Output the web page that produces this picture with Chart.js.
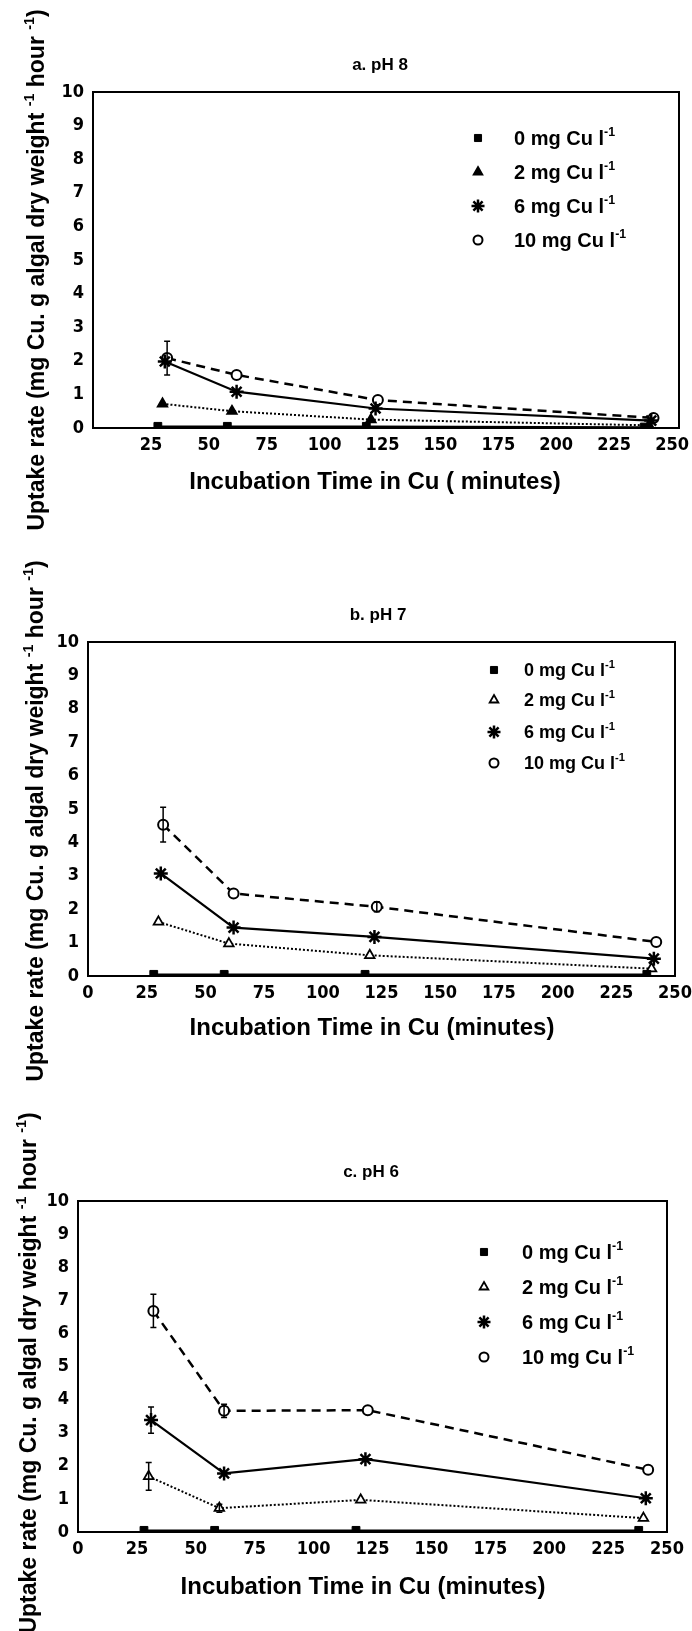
<!DOCTYPE html>
<html>
<head>
<meta charset="utf-8">
<script src="https://cdn.jsdelivr.net/npm/chart.js@4.4.1/dist/chart.umd.min.js"></script>
<style>
    html, body { margin: 0; padding: 0; background: #fff; }
    #pagina { position: relative; width: 692px; height: 1631px; overflow: hidden; background: #fff; }
    .painel { position: absolute; left: 0; width: 692px; }
    .painel canvas { display: block; }
</style>
</head>
<body>
<div id="pagina">
    <div class="painel" style="top:0px;height:550px"><canvas id="grafico-a" width="692" height="550"></canvas></div>
    <div class="painel" style="top:550px;height:545px"><canvas id="grafico-b" width="692" height="545"></canvas></div>
    <div class="painel" style="top:1095px;height:536px"><canvas id="grafico-c" width="692" height="536"></canvas></div>
</div>
<script>
// tempos de incubacao (min) de cada serie
var tempo0  = [28, 58, 118, 238];
var tempo2  = [30, 60, 120, 240];
var tempo6  = [31, 62, 122, 241];
var tempo10 = [32, 62, 123, 242];

// a. pH 8
var ph8Cu0    = [0.05, 0.05, 0.05, 0.03];
var ph8Cu2    = [0.72, 0.50, 0.25, 0.08];
var ph8Cu6    = [1.98, 1.08, 0.58, 0.22];
var ph8Cu10   = [2.08, 1.58, 0.83, 0.30];
var ph8Erro10 = [0.50, null, null, null];

// b. pH 7
var ph7Cu0    = [0.05, 0.05, 0.05, 0.05];
var ph7Cu2    = [1.62, 0.97, 0.62, 0.22];
var ph7Cu6    = [3.07, 1.45, 1.17, 0.52];
var ph7Cu10   = [4.53, 2.47, 2.07, 1.02];
var ph7Erro10 = [0.52, null, 0.15, null];

// c. pH 6
var ph6Cu0    = [0.05, 0.05, 0.05, 0.05];
var ph6Cu2    = [1.68, 0.72, 0.97, 0.42];
var ph6Cu6    = [3.38, 1.77, 2.20, 1.02];
var ph6Cu10   = [6.68, 3.66, 3.68, 1.88];
var ph6Erro2  = [0.42, 0.12, null, null];
var ph6Erro6  = [0.40, null, null, null];
var ph6Erro10 = [0.50, 0.20, null, null];

var ticksY  = [0, 1, 2, 3, 4, 5, 6, 7, 8, 9, 10];
var ticksX  = [0, 25, 50, 75, 100, 125, 150, 175, 200, 225, 250];
var ticksXa = [25, 50, 75, 100, 125, 150, 175, 200, 225, 250];

var legendas = ['0 mg Cu l', '2 mg Cu l', '6 mg Cu l', '10 mg Cu l'];
var titulos  = ['a. pH 8', 'b. pH 7', 'c. pH 6'];
var tituloY  = [
    { t: 'Uptake rate (mg Cu. g algal dry weight ' }, { t: '-1', sup: true },
    { t: ' hour ' }, { t: '-1', sup: true }, { t: ')' }
];

var fonteTexto   = "'Liberation Sans', Arial, sans-serif";
var fonteNumeros = "'Liberation Sans Narrow', 'DejaVu Sans Condensed', 'Liberation Sans', sans-serif";

var estilos = [
    { ponto: 'rect',     raio: 5.5, traco: [],     espessura: 1.5, bordaPonto: 1,   fundo: '#000' },
    { ponto: 'triangle', raio: 5.5, traco: [2, 2], espessura: 2,   bordaPonto: 1.8, fundo: '#fff' },
    { ponto: 'star',     raio: 7,   traco: [],     espessura: 2.2, bordaPonto: 2.5, fundo: '#000' },
    { ponto: 'circle',   raio: 5,   traco: [9, 6], espessura: 2.5, bordaPonto: 2,   fundo: '#fff' }
];

var paineis = [
    { canvas: 'grafico-a', topo: 0, altura: 550, titulo: titulos[0], tituloPos: [380, 65],
      area: { esq: 93, topo: 92, dir: 679, base: 428 }, xMax: 253, ticks: ticksXa,
      eixoX: 'Incubation Time in Cu ( minutes)', eixoXPos: [375, 482], eixoYPos: [36, 270],
      legenda: { marcador: 478, texto: 514, linhas: [138, 172, 206, 240], tam: 20 },
      tempos: [tempo0, tempo2, tempo6, tempo10],
      series: [ph8Cu0, ph8Cu2, ph8Cu6, ph8Cu10], erros: [null, null, null, ph8Erro10], trianguloCheio: true },
    { canvas: 'grafico-b', topo: 550, altura: 545, titulo: titulos[1], tituloPos: [378, 615],
      area: { esq: 88, topo: 642, dir: 675, base: 976 }, xMax: 250, ticks: ticksX,
      eixoX: 'Incubation Time in Cu (minutes)', eixoXPos: [372, 1028], eixoYPos: [35, 821],
      legenda: { marcador: 494, texto: 524, linhas: [670, 700, 732, 763], tam: 18 },
      tempos: [tempo0, tempo2, tempo6, tempo10],
      series: [ph7Cu0, ph7Cu2, ph7Cu6, ph7Cu10], erros: [null, null, null, ph7Erro10], trianguloCheio: false },
    { canvas: 'grafico-c', topo: 1095, altura: 536, titulo: titulos[2], tituloPos: [371, 1172],
      area: { esq: 78, topo: 1201, dir: 667, base: 1532 }, xMax: 250, ticks: ticksX,
      eixoX: 'Incubation Time in Cu (minutes)', eixoXPos: [363, 1587], eixoYPos: [28, 1373],
      legenda: { marcador: 484, texto: 522, linhas: [1252, 1287, 1322, 1357], tam: 20 },
      tempos: [tempo0, tempo2, tempo6, tempo10],
      series: [ph6Cu0, ph6Cu2, ph6Cu6, ph6Cu10], erros: [null, ph6Erro2, ph6Erro6, ph6Erro10], trianguloCheio: false }
];

function fonte(tam, familia) {
    return 'bold ' + tam + 'px ' + familia;
}

function larguraPartes(ctx, partes, tam) {
    var total = 0;
    for (var i = 0; i < partes.length; i++) {
        ctx.font = fonte(partes[i].sup ? tam * 0.62 : tam, fonteTexto);
        total += ctx.measureText(partes[i].t).width;
    }
    return total;
}

// desenha texto com expoentes; y e o meio da linha
function desenharPartes(ctx, partes, x, y, tam) {
    ctx.textAlign = 'left';
    ctx.textBaseline = 'alphabetic';
    var base = y + tam * 0.36;
    var cx = x;
    for (var i = 0; i < partes.length; i++) {
        var p = partes[i];
        if (p.sup) {
            ctx.font = fonte(tam * 0.62, fonteTexto);
            ctx.fillText(p.t, cx, base - tam * 0.45);
        } else {
            ctx.font = fonte(tam, fonteTexto);
            ctx.fillText(p.t, cx, base);
        }
        cx += ctx.measureText(p.t).width;
    }
}

function criarPluginDecoracao(painel) {
    return {
        id: 'decoracao',
        beforeDraw: function(chart) {
            var ctx = chart.ctx;
            ctx.save();
            ctx.fillStyle = '#fff';
            ctx.fillRect(0, 0, chart.width, chart.height);
            ctx.restore();
        },
        afterDatasetsDraw: function(chart) {
            // barras de erro
            var ctx = chart.ctx;
            var escalaY = chart.scales.y;
            ctx.save();
            ctx.strokeStyle = '#000';
            ctx.lineWidth = 1.5;
            for (var i = 0; i < painel.erros.length; i++) {
                var erros = painel.erros[i];
                if (!erros) continue;
                var meta = chart.getDatasetMeta(i);
                for (var j = 0; j < erros.length; j++) {
                    if (erros[j] == null) continue;
                    var v = painel.series[i][j];
                    var x = meta.data[j].x;
                    var yTop = escalaY.getPixelForValue(v + erros[j]);
                    var yBase = escalaY.getPixelForValue(v - erros[j]);
                    ctx.beginPath();
                    ctx.moveTo(x, yTop); ctx.lineTo(x, yBase);
                    ctx.moveTo(x - 3, yTop); ctx.lineTo(x + 3, yTop);
                    ctx.moveTo(x - 3, yBase); ctx.lineTo(x + 3, yBase);
                    ctx.stroke();
                }
            }
            ctx.restore();
        },
        afterDraw: function(chart) {
            var ctx = chart.ctx;
            var a = chart.chartArea;
            var dy = painel.topo;
            ctx.save();
            ctx.fillStyle = '#000';
            ctx.strokeStyle = '#000';

            // moldura
            ctx.lineWidth = 2;
            ctx.strokeRect(a.left, a.top, a.right - a.left, a.bottom - a.top);

            // titulo do painel
            ctx.font = fonte(17, fonteTexto);
            ctx.textAlign = 'center';
            ctx.textBaseline = 'middle';
            ctx.fillText(painel.titulo, painel.tituloPos[0], painel.tituloPos[1] - dy);

            // titulo do eixo x
            ctx.font = fonte(24, fonteTexto);
            ctx.fillText(painel.eixoX, painel.eixoXPos[0], painel.eixoXPos[1] - dy);

            // titulo do eixo y
            ctx.save();
            ctx.translate(painel.eixoYPos[0], painel.eixoYPos[1] - dy);
            ctx.rotate(-Math.PI / 2);
            var larg = larguraPartes(ctx, tituloY, 23);
            desenharPartes(ctx, tituloY, -larg / 2, 0, 23);
            ctx.restore();

            // legenda
            var leg = painel.legenda;
            for (var i = 0; i < legendas.length; i++) {
                var ds = chart.data.datasets[i];
                var yl = leg.linhas[i] - dy;
                ctx.save();
                ctx.setLineDash([]);
                ctx.fillStyle = ds.pointBackgroundColor;
                ctx.strokeStyle = '#000';
                ctx.lineWidth = ds.pointBorderWidth;
                Chart.helpers.drawPoint(ctx, {
                    pointStyle: ds.pointStyle, radius: ds.pointRadius - 0.5, rotation: 0, borderWidth: ds.pointBorderWidth
                }, leg.marcador, yl);
                ctx.restore();
                ctx.fillStyle = '#000';
                desenharPartes(ctx, [{ t: legendas[i] }, { t: '-1', sup: true }], leg.texto, yl, leg.tam);
            }
            ctx.restore();
        }
    };
}

function criarDatasets(painel) {
    var datasets = [];
    for (var i = 0; i < painel.series.length; i++) {
        var est = estilos[i];
        var pontos = [];
        for (var j = 0; j < painel.series[i].length; j++) {
            pontos.push({ x: painel.tempos[i][j], y: painel.series[i][j] });
        }
        var fundo = est.fundo;
        if (i == 1 && painel.trianguloCheio) fundo = '#000';
        datasets.push({
            label: legendas[i],
            data: pontos,
            showLine: true,
            borderColor: '#000',
            backgroundColor: fundo,
            borderWidth: est.espessura,
            borderDash: est.traco,
            pointStyle: est.ponto,
            pointRadius: est.raio,
            pointBorderWidth: est.bordaPonto,
            pointBorderColor: '#000',
            pointBackgroundColor: fundo,
            tension: 0,
            fill: false,
            clip: { left: 20, top: 20, right: 20, bottom: 0 }
        });
    }
    return datasets;
}

function renderizarPainel(painel) {
    var area = painel.area;
    new Chart(document.getElementById(painel.canvas), {
        type: 'scatter',
        data: { datasets: criarDatasets(painel) },
        options: {
            responsive: false,
            animation: false,
            layout: {
                padding: { left: 0, top: area.topo - painel.topo, right: 692 - area.dir, bottom: 0 }
            },
            plugins: {
                legend: { display: false },
                tooltip: { enabled: false }
            },
            scales: {
                x: {
                    type: 'linear',
                    min: 0,
                    max: painel.xMax,
                    grid: { display: false, drawTicks: false },
                    border: { display: false },
                    ticks: {
                        color: '#000',
                        padding: 7,
                        maxRotation: 0,
                        font: { family: fonteNumeros, size: 18, weight: 'bold' }
                    },
                    afterBuildTicks: function(s) {
                        s.ticks = painel.ticks.map(function(v) { return { value: v }; });
                    },
                    afterFit: function(s) {
                        s.height = painel.topo + painel.altura - area.base;
                        s.paddingLeft = 0;
                        s.paddingRight = 0;
                    }
                },
                y: {
                    min: 0,
                    max: 10,
                    grid: { display: false, drawTicks: false },
                    border: { display: false },
                    ticks: {
                        color: '#000',
                        padding: 9,
                        font: { family: fonteNumeros, size: 18, weight: 'bold' }
                    },
                    afterBuildTicks: function(s) {
                        s.ticks = ticksY.map(function(v) { return { value: v }; });
                    },
                    afterFit: function(s) {
                        s.width = area.esq;
                        s.paddingTop = 0;
                        s.paddingBottom = 0;
                    }
                }
            }
        },
        plugins: [criarPluginDecoracao(painel)]
    });
}

for (var i = 0; i < paineis.length; i++) {
    renderizarPainel(paineis[i]);
}
</script>
</body>
</html>
